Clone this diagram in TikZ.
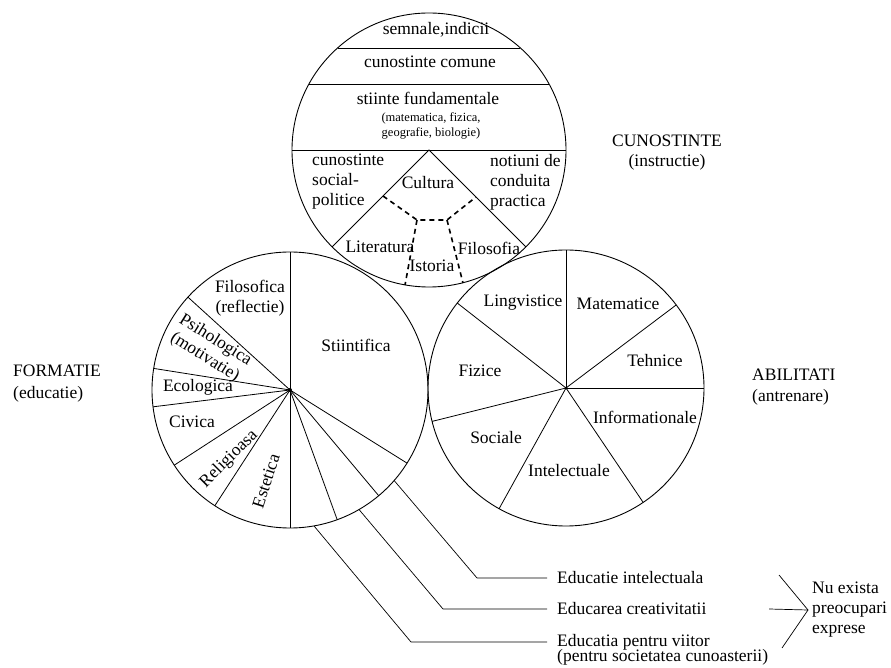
\documentclass[tikz,border=0pt]{standalone}
\usepackage{fontspec}
\setmainfont{Liberation Serif}
\usepackage{tikz}
\usetikzlibrary{calc, positioning}

\begin{document}
\begin{tikzpicture}[x=1pt, y=1pt,
  lbl/.style={font=\fontsize{17.5}{20}\selectfont, align=center, inner sep=0pt},
  small/.style={font=\fontsize{12.5}{15}\selectfont, align=center, inner sep=0pt},
  edu/.style={lbl, anchor=west, inner xsep=10pt, inner ysep=0pt},
  ring/.style={line width=0.9pt},
  spoke/.style={line width=0.8pt},
  lead/.style={line width=0.7pt},
  road/.style={line width=1.6pt, dash pattern=on 5pt off 4pt},
]
  \useasboundingbox (0,0) rectangle (891,667);

  \coordinate (top) at (429,517);
  \coordinate (left) at (290,277);
  \coordinate (right) at (566,279);

  % the three circles
  \draw[ring] (top) circle (137);
  \draw[ring] (left) circle (138);
  \draw[ring] (right) circle (138);

  % CUNOSTINTE: layers and the culture triangle
  \draw[spoke] ($(top)+(48.1:137)$) -- ($(top)+(131.9:137)$);
  \draw[spoke] ($(top)+(28.8:137)$) -- ($(top)+(151.2:137)$);
  \draw[spoke] ($(top)+(0:137)$) -- ($(top)+(180:137)$);
  \draw[spoke] ($(top)+(225:137)$) -- (top) -- ($(top)+(315:137)$);

  \coordinate (cl) at (383,471);
  \coordinate (cm1) at (417,447);
  \coordinate (cm2) at (447,447);
  \coordinate (cr) at (476,470);
  \coordinate (hl) at (405,382);
  \coordinate (hr) at (463,384);
  \draw[road] (cl) -- (cm1) -- (cm2) -- (cr);
  \draw[road] (cm1) -- (hl);
  \draw[road] (cm2) -- (hr);

  \node[lbl] (semn) at (436,637) {semnale,indicii};
  \node[lbl] (comun) at (430,605) {cunostinte comune};
  \node[lbl] (fund) at (428,569) {stiinte fundamentale};
  \node[small] (fundex) at (431,541) {(matematica, fizica,\\geografie, biologie)};
  \node[lbl, align=left, anchor=west] (socpol) at (312,485) {cunostinte\\social-\\politice};
  \node[lbl, align=left, anchor=west] (cond) at (490,485) {notiuni de\\conduita\\practica};
  \node[lbl] (cult) at (428,484) {Cultura};
  \node[lbl] (lit) at (380,420) {Literatura};
  \node[lbl] (ist) at (432,401) {Istoria};
  \node[lbl] (filo) at (489,419) {Filosofia};

  % FORMATIE sectors
  \foreach \a in {90,137.7,171,187,213,237,270,290,310,328}
    \draw[spoke] (left) -- ++(\a:138);
  \fill (left) circle (2);

  \node[lbl] (refl) at (250,369) {Filosofica\\(reflectie)};
  \node[lbl, rotate=-32] (psih) at (210,318) {Psihologica\\(motivatie)};
  \node[lbl] (eco) at (198,280) {Ecologica};
  \node[lbl] (civ) at (192,245) {Civica};
  \node[lbl, rotate=45] (rel) at (229,208) {Religioasa};
  \node[lbl, rotate=72] (est) at (266,186) {Estetica};
  \node[lbl] (sti) at (356,322) {Stiintifica};

  % ABILITATI sectors
  \foreach \a in {0,37,90,142,194,241,304}
    \draw[spoke] (right) -- ++(\a:138);
  \fill (right) circle (1.5);

  \node[lbl] (ling) at (523,364) {Lingvistice};
  \node[lbl] (mat) at (618,363) {Matematice};
  \node[lbl] (teh) at (655,306) {Tehnice};
  \node[lbl] (fiz) at (480,296) {Fizice};
  \node[lbl] (info) at (645,250) {Informationale};
  \node[lbl] (soc) at (496,229) {Sociale};
  \node[lbl] (intel) at (569,196) {Intelectuale};

  % side titles
  \node[lbl, align=left, anchor=west] (form) at (13,283) {FORMATIE\\[2pt](educatie)};
  \node[lbl, align=left, anchor=west] (abil) at (752,280) {ABILITATI\\[1pt](antrenare)};
  \node[lbl] (cuno) at (667,514) {CUNOSTINTE\\(instructie)};

  % leaders to the missing kinds of education
  \node[edu] (edu1) at (547,89) {Educatie intelectuala};
  \node[edu] (edu2) at (547,58) {Educarea creativitatii};
  \node[edu] (edu3) at (547,25) {Educatia pentru viitor};
  \node[edu, anchor=north west, yshift=1pt] (edu3b) at (edu3.south west) {(pentru societatea cunoasterii)};

  \coordinate (k1) at (477,89);
  \coordinate (k2) at (443,58);
  \coordinate (k3) at (411,25);
  \draw[lead] ($(left)+(319:138)$) -- (k1) -- (edu1.west);
  \draw[lead] ($(left)+(300:138)$) -- (k2) -- (edu2.west);
  \draw[lead] ($(left)+(280:138)$) -- (k3) -- (edu3.west);

  \node[lbl, align=left, anchor=west, inner xsep=4pt] (none) at (808,57) {Nu exista\\preocupari\\exprese};
  \coordinate (b1) at (779,92);
  \coordinate (b2) at (769,58);
  \coordinate (b3) at (782,19);
  \draw[lead] (b1) -- (none.west) -- (b3);
  \draw[lead] (b2) -- (none.west);
\end{tikzpicture}
\end{document}
